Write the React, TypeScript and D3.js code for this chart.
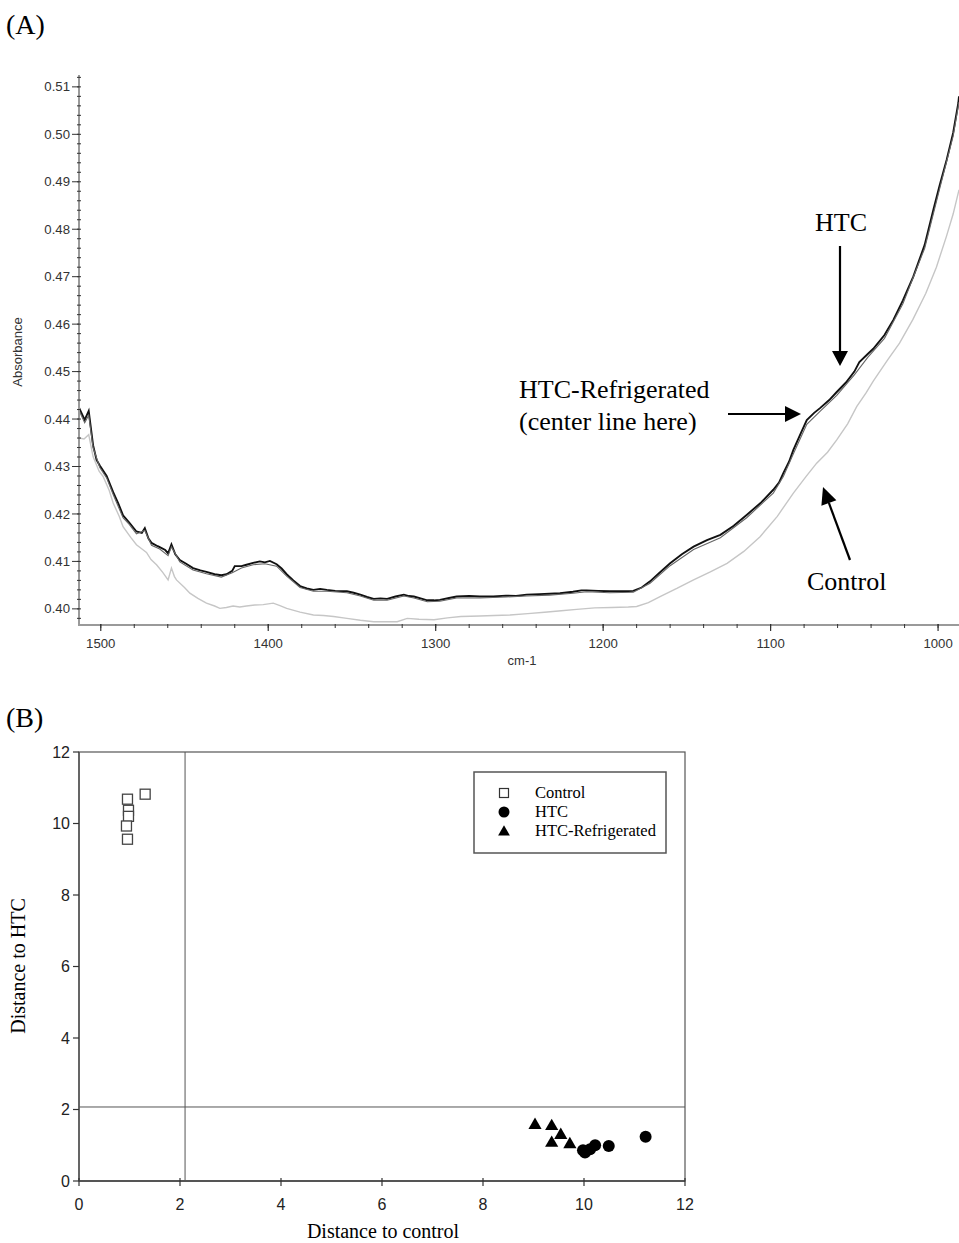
import React from "react";
import * as d3 from "d3";

// ---------- Panel A data (FTIR spectra) ----------
const htcWave = [1513,1509.6,1507.2,1504.6,1502.5,1500.6,1496.5,1492.6,1489.5,1486.7,1483,1478.7,1475.5,1473.7,1471.5,1469.7,1466,1464.8,1461.5,1459.8,1457.8,1455.5,1452.8,1449,1444.9,1440.5,1436.9,1432,1428,1424.9,1421.5,1420,1416,1413,1409,1405,1402,1399,1395,1392,1389,1385,1381,1377,1373,1369,1365,1360,1353,1349,1345,1341,1337,1333,1329,1324,1319,1316,1313,1309,1305,1301,1297.5,1292,1287.5,1280,1273.6,1265.6,1258,1252,1245.7,1238,1232,1225.8,1218,1213,1209.9,1203,1196,1188,1182,1177,1172,1166,1160,1153,1146,1138,1130,1122,1114.3,1106,1098.4,1095,1092.4,1089,1086.4,1082,1078.4,1074,1070.5,1065,1060.5,1055,1050,1047,1042,1038.7,1032,1026.7,1021,1014.8,1008,1002.8,999,994.9,991,987.9,987.5];
const htcAbs = [0.4424,0.4398,0.4417,0.4345,0.4314,0.4302,0.4280,0.4246,0.4222,0.4197,0.4182,0.4163,0.4160,0.4170,0.4148,0.4139,0.4132,0.4130,0.4124,0.4117,0.4136,0.4115,0.4103,0.4095,0.4086,0.4081,0.4078,0.4073,0.4071,0.4073,0.4080,0.4090,0.4090,0.4093,0.4097,0.4100,0.4098,0.4101,0.4094,0.4085,0.4073,0.4060,0.4048,0.4043,0.4040,0.4042,0.4040,0.4038,0.4037,0.4034,0.4030,0.4025,0.4021,0.4022,0.4021,0.4026,0.4030,0.4027,0.4026,0.4022,0.4018,0.4018,0.4019,0.4023,0.4026,0.4027,0.4026,0.4026,0.4028,0.4027,0.4030,0.4031,0.4032,0.4033,0.4036,0.4039,0.4039,0.4038,0.4037,0.4037,0.4038,0.4045,0.4058,0.4077,0.4096,0.4115,0.4131,0.4145,0.4156,0.4175,0.4198,0.4223,0.4251,0.4266,0.4286,0.4310,0.4335,0.4370,0.4398,0.4413,0.4423,0.4440,0.4457,0.4477,0.4500,0.4520,0.4537,0.4548,0.4577,0.4609,0.4650,0.4700,0.4767,0.4841,0.4893,0.4946,0.5003,0.5066,0.5080];

const refWave = [1513,1509.6,1507.2,1504.6,1500.6,1496.5,1492.6,1486.7,1483,1478.7,1473.7,1469.7,1464.8,1459.8,1457.8,1452.8,1444.9,1436.9,1428,1421.5,1416,1409,1402,1395,1389,1381,1373,1365,1353,1345,1337,1329,1319,1313,1305,1297.5,1287.5,1273.6,1258,1245.7,1232,1218,1209.9,1196,1182,1172,1160,1146,1130,1114.3,1098.4,1092.4,1086.4,1078.4,1070.5,1060.5,1050,1042,1032,1021,1008,999,991,987.5];
const refAbs = [0.4418,0.4392,0.4408,0.4340,0.4298,0.4276,0.4241,0.4192,0.4178,0.4158,0.4165,0.4134,0.4126,0.4112,0.4131,0.4099,0.4082,0.4074,0.4067,0.4076,0.4086,0.4093,0.4095,0.4090,0.4069,0.4045,0.4037,0.4037,0.4034,0.4027,0.4018,0.4018,0.4027,0.4023,0.4015,0.4016,0.4023,0.4023,0.4025,0.4027,0.4029,0.4033,0.4036,0.4034,0.4035,0.4054,0.4091,0.4125,0.4150,0.4192,0.4244,0.4279,0.4327,0.4389,0.4416,0.4450,0.4493,0.4530,0.4570,0.4643,0.4760,0.4886,0.4996,0.5068];

const ctrlWave = [1513,1510,1507.2,1504.6,1501,1498.6,1495,1492.6,1489,1486.7,1482,1478.7,1475,1472.7,1470,1466.7,1463,1459.8,1457.8,1456,1454.8,1450,1446.8,1442,1436.9,1432,1428.9,1425,1421,1417,1413,1408,1403,1397,1393,1389,1381,1373,1367,1361,1353,1345,1337,1330,1323,1317,1310,1301,1293,1285,1273.6,1265,1255.7,1245,1235,1225,1215.8,1205,1195,1185,1180,1173,1166,1156,1146,1136,1126,1116,1106.3,1096,1086.4,1079,1072.5,1066,1060.5,1054,1048.6,1043,1038.7,1030,1023,1015,1007.3,1001,995,991,987.5];
const ctrlAbs = [0.4360,0.4358,0.4367,0.4321,0.4290,0.4279,0.4250,0.4223,0.4195,0.4173,0.4150,0.4135,0.4125,0.4119,0.4104,0.4093,0.4077,0.4061,0.4086,0.4068,0.4061,0.4045,0.4033,0.4022,0.4012,0.4006,0.4001,0.4003,0.4006,0.4004,0.4006,0.4008,0.4009,0.4012,0.4007,0.4001,0.3993,0.3987,0.3986,0.3984,0.3980,0.3976,0.3973,0.3973,0.3973,0.3980,0.3978,0.3977,0.3981,0.3984,0.3985,0.3986,0.3987,0.3990,0.3993,0.3996,0.3999,0.4002,0.4003,0.4004,0.4005,0.4013,0.4026,0.4043,0.4061,0.4078,0.4096,0.4121,0.4152,0.4195,0.4244,0.4278,0.4307,0.4330,0.4356,0.4390,0.4426,0.4455,0.4480,0.4525,0.4560,0.4610,0.4665,0.4720,0.4785,0.4832,0.4883];

const absTicks = [0.40,0.41,0.42,0.43,0.44,0.45,0.46,0.47,0.48,0.49,0.50,0.51];
const waveTicks = [1500,1400,1300,1200,1100,1000];

// ---------- Panel B data (distances) ----------
const controlX = [1.31,0.96,0.98,0.98,0.94,0.96];
const controlY = [10.82,10.68,10.37,10.20,9.93,9.56];
const htcX = [11.22,10.49,10.22,10.12,10.02,9.98];
const htcY = [1.24,0.98,1.00,0.89,0.80,0.86];
const refX = [9.03,9.36,9.54,9.36,9.72];
const refY = [1.59,1.56,1.31,1.09,1.05];
const distTicks = [0,2,4,6,8,10,12];
const thresholdX = 2.1;
const thresholdY = 2.07;
const legendLabels = ["Control","HTC","HTC-Refrigerated"];

const SERIF = "'Liberation Serif','Times New Roman',serif";
const SANS = "'Liberation Sans',Arial,sans-serif";

function Arrow({ x1, y1, x2, y2, head = 15, half = 7 }: any) {
  const ang = Math.atan2(y2 - y1, x2 - x1);
  const bx = x2 - head * Math.cos(ang);
  const by = y2 - head * Math.sin(ang);
  const px = -Math.sin(ang) * half;
  const py = Math.cos(ang) * half;
  return (
    <g>
      <line x1={x1} y1={y1} x2={bx} y2={by} stroke="#000" strokeWidth={2.2} />
      <polygon points={`${x2},${y2} ${bx + px},${by + py} ${bx - px},${by - py}`} fill="#000" />
    </g>
  );
}

export default function App() {
  // Panel A scales
  const xA = d3.scaleLinear().domain([1513, 987.5]).range([79, 959]);
  const yA = d3.scaleLinear().domain([0.3966, 0.5125]).range([625, 75]);
  const lineA = d3.line<[number, number]>().x((d) => xA(d[0])).y((d) => yA(d[1]));
  const htcPts = htcWave.map((w, i) => [w, htcAbs[i]] as [number, number]);
  const refPts = refWave.map((w, i) => [w, refAbs[i]] as [number, number]);
  const ctrlPts = ctrlWave.map((w, i) => [w, ctrlAbs[i]] as [number, number]);
  const minorY = d3.range(0.398, 0.5121, 0.002);
  const minorX = d3.range(1000, 1512, 20);

  // Panel B scales
  const xB = d3.scaleLinear().domain([0, 12]).range([79, 685]);
  const yB = d3.scaleLinear().domain([0, 12]).range([1181, 752]);
  const tri = d3.symbol().type(d3.symbolTriangle).size(75)();
  const sq = 10;

  return (
    <svg width={959} height={1243} style={{ position: "absolute", left: 0, top: 0, background: "#fff" }}>
      <rect x={0} y={0} width={959} height={1243} fill="#fff" />
      {/* Panel labels */}
      <text x={6} y={34} fontFamily={SERIF} fontSize={28}>(A)</text>
      <text x={6} y={727} fontFamily={SERIF} fontSize={28}>(B)</text>

      {/* ---------- Panel A ---------- */}
      <defs>
        <clipPath id="clipA">
          <rect x={79} y={60} width={880} height={565} />
        </clipPath>
      </defs>
      <g clipPath="url(#clipA)">
        <path d={lineA(ctrlPts) || ""} fill="none" stroke="#c6c6c6" strokeWidth={1.4} />
        <path d={lineA(htcPts) || ""} fill="none" stroke="#111" strokeWidth={1.9} />
        <path d={lineA(refPts) || ""} fill="none" stroke="#666" strokeWidth={1.1} />
      </g>
      {/* y axis */}
      <line x1={79} y1={75} x2={79} y2={626} stroke="#9a9a9a" strokeWidth={2} />
      {minorY.map((v, i) => (
        <line key={"my" + i} x1={77} x2={81} y1={yA(v)} y2={yA(v)} stroke="#333" strokeWidth={1} />
      ))}
      {absTicks.map((v) => (
        <g key={"ya" + v}>
          <line x1={72} x2={79} y1={yA(v)} y2={yA(v)} stroke="#333" strokeWidth={1} />
          <text x={70} y={yA(v)} dy="0.35em" textAnchor="end" fontFamily={SANS} fontSize={13.2} fill="#333">
            {v.toFixed(2)}
          </text>
        </g>
      ))}
      <text transform="translate(22,352) rotate(-90)" textAnchor="middle" fontFamily={SANS} fontSize={13} fill="#333">Absorbance</text>
      {/* x axis */}
      <line x1={78} y1={625} x2={959} y2={625} stroke="#9a9a9a" strokeWidth={2} />
      {minorX.map((w) => (
        <line key={"mx" + w} x1={xA(w)} x2={xA(w)} y1={624} y2={628} stroke="#333" strokeWidth={1} />
      ))}
      {waveTicks.map((w) => (
        <g key={"xa" + w}>
          <line x1={xA(w)} x2={xA(w)} y1={624} y2={631} stroke="#333" strokeWidth={1.2} />
          <text x={xA(w)} y={648} textAnchor="middle" fontFamily={SANS} fontSize={13.2} fill="#333">{w}</text>
        </g>
      ))}
      <text x={522} y={665} textAnchor="middle" fontFamily={SANS} fontSize={13} fill="#333">cm-1</text>

      {/* annotations */}
      <text x={841} y={231} textAnchor="middle" fontFamily={SERIF} fontSize={26}>HTC</text>
      <Arrow x1={840} y1={246} x2={840} y2={366} head={15} half={8} />
      <text x={519} y={398} fontFamily={SERIF} fontSize={26}>HTC-Refrigerated</text>
      <text x={519} y={430} fontFamily={SERIF} fontSize={26}>(center line here)</text>
      <Arrow x1={728} y1={414} x2={801} y2={414} head={16} half={8} />
      <text x={807} y={590} fontFamily={SERIF} fontSize={26}>Control</text>
      <Arrow x1={850} y1={560} x2={823} y2={487} head={17} half={8} />

      {/* ---------- Panel B ---------- */}
      <rect x={xB(0)} y={yB(12)} width={xB(12) - xB(0)} height={yB(0) - yB(12)} fill="none" stroke="#555" strokeWidth={1.2} />
      <line x1={xB(0)} x2={xB(12)} y1={yB(0)} y2={yB(0)} stroke="#555" strokeWidth={2} />
      <line x1={xB(0)} x2={xB(0)} y1={yB(0)} y2={yB(12)} stroke="#555" strokeWidth={1.5} />
      <line x1={xB(thresholdX)} x2={xB(thresholdX)} y1={yB(0)} y2={yB(12)} stroke="#555" strokeWidth={1} />
      <line x1={xB(0)} x2={xB(12)} y1={yB(thresholdY)} y2={yB(thresholdY)} stroke="#555" strokeWidth={1} />
      {distTicks.map((t) => (
        <g key={"xb" + t}>
          <line x1={xB(t)} x2={xB(t)} y1={yB(0) - 3} y2={yB(0) + 5} stroke="#333" strokeWidth={1.2} />
          <text x={xB(t)} y={1210} textAnchor="middle" fontFamily={SANS} fontSize={16} fill="#222">{t}</text>
        </g>
      ))}
      {distTicks.map((t) => (
        <g key={"yb" + t}>
          <line x1={xB(0) - 6} x2={xB(0)} y1={yB(t)} y2={yB(t)} stroke="#333" strokeWidth={1.2} />
          <text x={70} y={yB(t)} dy="0.35em" textAnchor="end" fontFamily={SANS} fontSize={16} fill="#222">{t}</text>
        </g>
      ))}
      <text x={383} y={1238} textAnchor="middle" fontFamily={SERIF} fontSize={20}>Distance to control</text>
      <text transform="translate(25,966) rotate(-90)" textAnchor="middle" fontFamily={SERIF} fontSize={20}>Distance to HTC</text>

      {/* points */}
      {controlX.map((x, i) => (
        <rect key={"c" + i} x={xB(x) - sq / 2} y={yB(controlY[i]) - sq / 2} width={sq} height={sq} fill="#fff" stroke="#444" strokeWidth={1.3} />
      ))}
      {refX.map((x, i) => (
        <path key={"r" + i} d={tri || ""} transform={`translate(${xB(x)},${yB(refY[i]) + 1})`} fill="#000" />
      ))}
      {htcX.map((x, i) => (
        <circle key={"h" + i} cx={xB(x)} cy={yB(htcY[i])} r={6} fill="#000" />
      ))}

      {/* legend */}
      <rect x={474} y={772} width={192} height={81} fill="#fff" stroke="#555" strokeWidth={1.5} />
      <rect x={504 - 4.5} y={793 - 4.5} width={9} height={9} fill="#fff" stroke="#333" strokeWidth={1.2} />
      <circle cx={504} cy={812} r={5.5} fill="#000" />
      <path d={d3.symbol().type(d3.symbolTriangle).size(60)() || ""} transform="translate(504,832)" fill="#000" />
      {legendLabels.map((l, i) => (
        <text key={l} x={535} y={798 + i * 19} fontFamily={SERIF} fontSize={16.5}>{l}</text>
      ))}
    </svg>
  );
}
